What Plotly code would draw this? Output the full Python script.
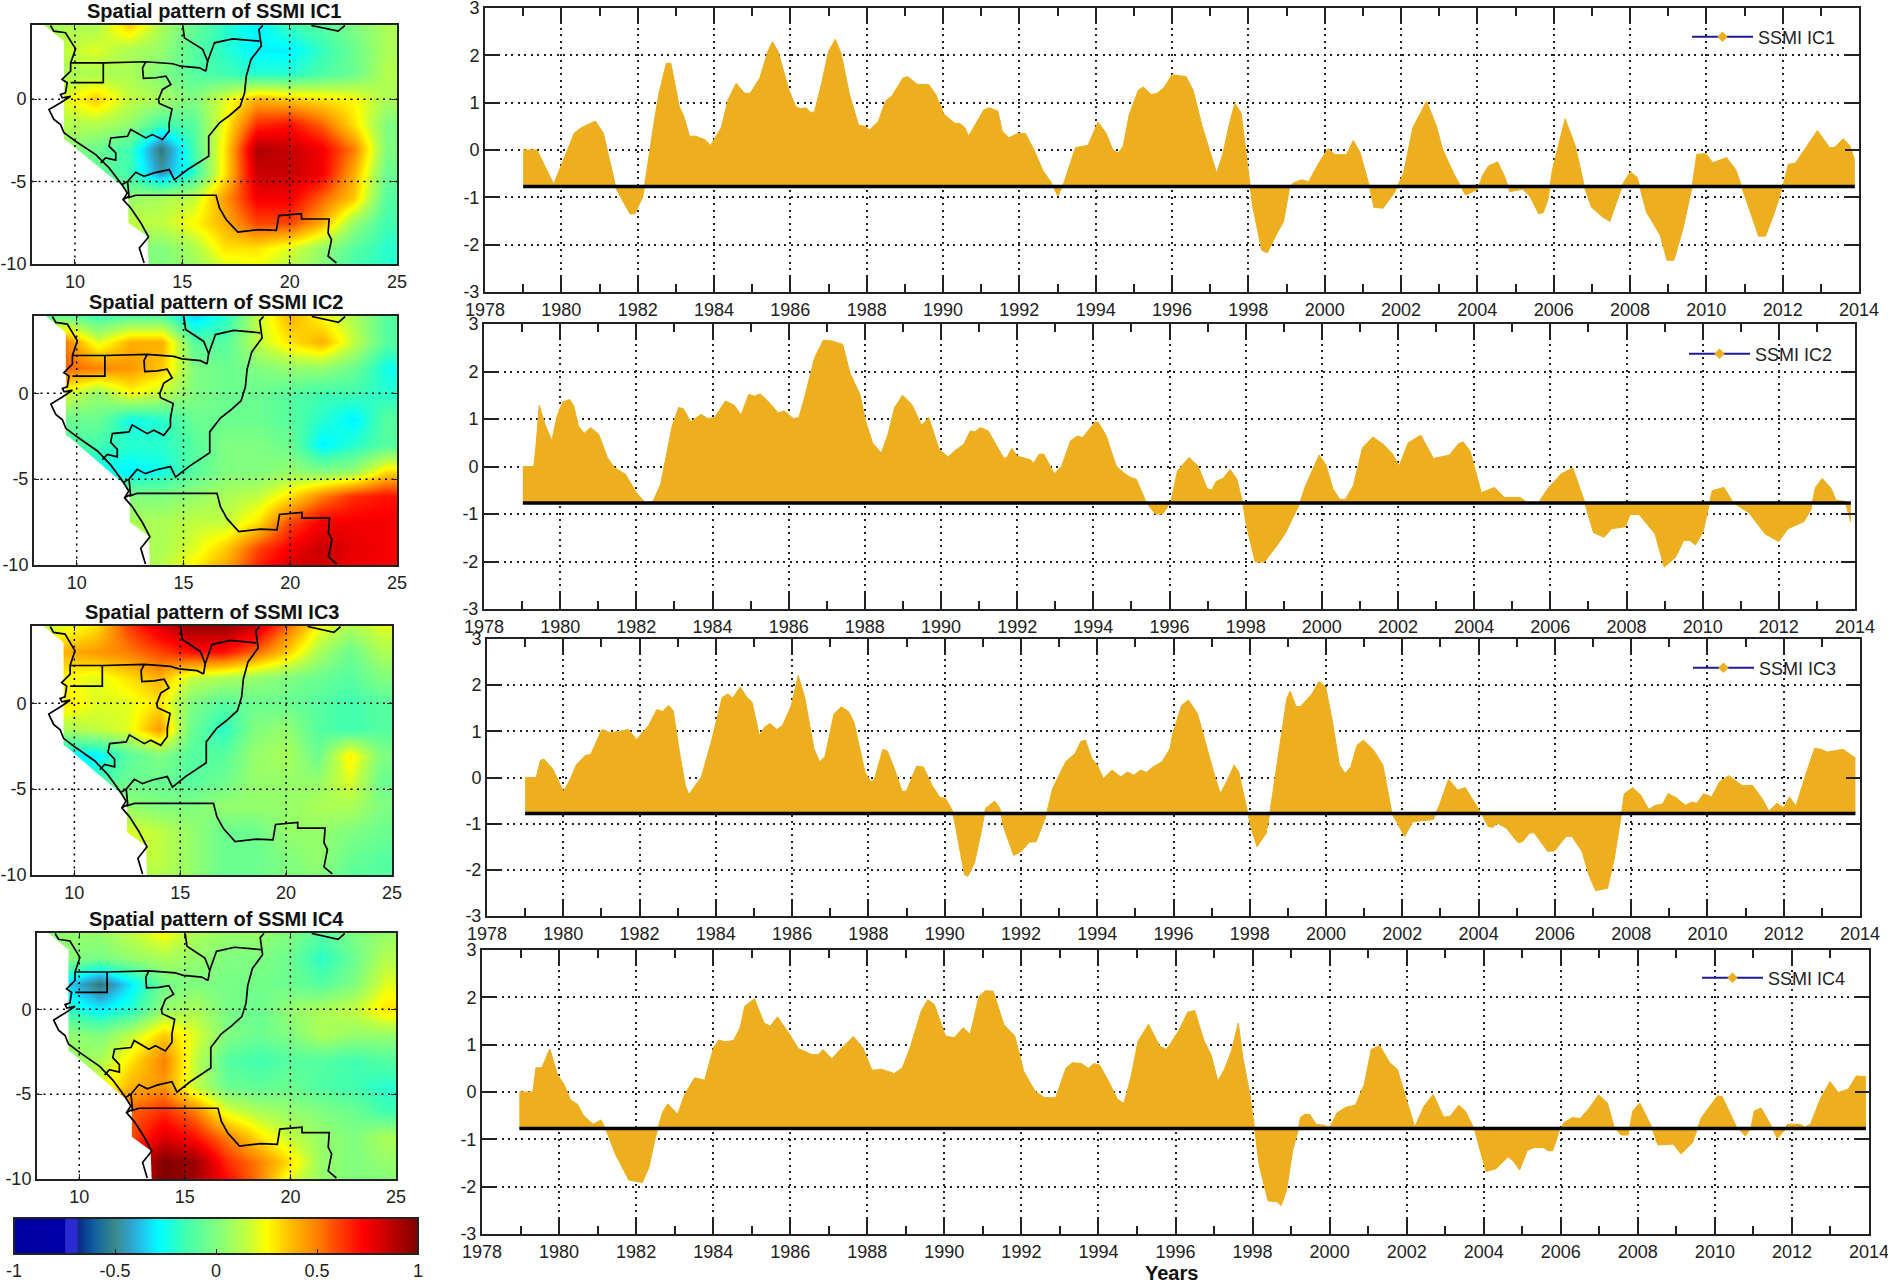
import plotly.graph_objects as go

W, H = 1888, 1284

# ---------------------- time series ----------------------
ic1_years = [1979.0, 1979.36, 1979.8, 1980.1, 1980.34, 1980.52, 1980.89, 1981.1, 1981.32, 1981.44, 1981.8, 1981.93, 1982.14, 1982.23, 1982.44, 1982.56, 1982.75, 1982.87, 1983.09, 1983.21, 1983.36, 1983.52, 1983.76, 1983.91, 1984.19, 1984.37, 1984.58, 1984.8, 1984.95, 1985.2, 1985.41, 1985.53, 1985.68, 1985.96, 1986.14, 1986.27, 1986.41, 1986.53, 1986.63, 1986.82, 1987.0, 1987.18, 1987.33, 1987.55, 1987.79, 1987.97, 1988.07, 1988.31, 1988.49, 1988.67, 1988.95, 1989.08, 1989.32, 1989.63, 1989.81, 1990.03, 1990.3, 1990.44, 1990.58, 1990.67, 1990.85, 1991.07, 1991.22, 1991.44, 1991.55, 1991.73, 1991.95, 1992.16, 1992.38, 1992.62, 1992.81, 1993.01, 1993.17, 1993.47, 1993.8, 1994.06, 1994.27, 1994.45, 1994.6, 1994.72, 1994.88, 1995.12, 1995.25, 1995.46, 1995.61, 1995.8, 1996.0, 1996.37, 1996.55, 1996.79, 1997.17, 1997.33, 1997.51, 1997.65, 1997.81, 1998.01, 1998.11, 1998.35, 1998.5, 1998.77, 1998.92, 1999.09, 1999.19, 1999.4, 1999.58, 1999.85, 2000.09, 2000.27, 2000.57, 2000.75, 2000.93, 2001.17, 2001.29, 2001.53, 2001.83, 2002.07, 2002.31, 2002.67, 2002.93, 2003.09, 2003.39, 2003.69, 2004.01, 2004.13, 2004.29, 2004.53, 2004.71, 2004.85, 2005.19, 2005.37, 2005.61, 2005.73, 2005.85, 2005.97, 2006.3, 2006.57, 2006.81, 2006.99, 2007.29, 2007.47, 2007.83, 2008.01, 2008.19, 2008.43, 2008.79, 2008.97, 2009.15, 2009.39, 2009.63, 2009.75, 2009.99, 2010.17, 2010.53, 2010.77, 2010.95, 2011.37, 2011.55, 2011.79, 2012.03, 2012.15, 2012.33, 2012.57, 2012.91, 2013.23, 2013.37, 2013.59, 2013.77, 2013.89]
ic1_values = [0, 0, -0.72, -0.13, 0.36, 0.47, 0.61, 0.36, -0.4, -0.83, -1.35, -1.35, -0.97, -0.47, 0.64, 1.2, 1.83, 1.83, 0.92, 0.71, 0.29, 0.29, 0.22, 0.1, 0.47, 1.06, 1.41, 1.2, 1.2, 1.52, 2.08, 2.29, 2.08, 1.27, 0.92, 0.87, 0.89, 0.8, 0.8, 1.41, 2.08, 2.34, 2.04, 1.17, 0.52, 0.5, 0.42, 0.61, 1.03, 1.15, 1.52, 1.55, 1.39, 1.38, 1.17, 0.75, 0.57, 0.56, 0.47, 0.29, 0.54, 0.85, 0.89, 0.82, 0.4, 0.26, 0.35, 0.35, 0.01, -0.44, -0.65, -0.97, -0.69, 0.05, 0.1, 0.59, 0.36, 0, -0.06, 0.08, 0.75, 1.27, 1.33, 1.17, 1.2, 1.33, 1.59, 1.55, 1.27, 0.5, -0.49, -0.09, 0.57, 0.99, 0.78, -0.48, -1.17, -2.12, -2.17, -1.73, -1.52, -0.76, -0.69, -0.63, -0.67, -0.27, 0.03, -0.1, -0.1, 0.2, -0.06, -0.76, -1.21, -1.23, -0.9, -0.48, 0.47, 1.03, 0.5, 0.01, -0.51, -0.95, -0.83, -0.55, -0.34, -0.25, -0.55, -0.88, -0.83, -0.97, -1.35, -1.32, -1.04, -0.41, 0.66, 0.08, -0.79, -1.21, -1.42, -1.51, -0.69, -0.46, -0.58, -1.31, -1.8, -2.33, -2.33, -1.66, -0.76, -0.09, -0.08, -0.27, -0.16, -0.41, -0.83, -1.82, -1.82, -1.31, -0.69, -0.3, -0.28, 0.01, 0.41, 0.05, 0.06, 0.24, 0.08, -0.23]

ic2_years = [1979.02, 1979.31, 1979.37, 1979.45, 1979.6, 1979.78, 1979.92, 1980.07, 1980.25, 1980.36, 1980.48, 1980.63, 1980.8, 1981.01, 1981.24, 1981.42, 1981.71, 1982.0, 1982.23, 1982.44, 1982.64, 1982.94, 1983.11, 1983.23, 1983.43, 1983.7, 1983.87, 1984.05, 1984.34, 1984.57, 1984.75, 1984.95, 1985.1, 1985.25, 1985.45, 1985.72, 1985.89, 1986.12, 1986.27, 1986.44, 1986.68, 1986.91, 1987.15, 1987.42, 1987.61, 1987.87, 1988.02, 1988.2, 1988.43, 1988.61, 1988.78, 1988.99, 1989.23, 1989.49, 1989.68, 1989.95, 1990.19, 1990.36, 1990.6, 1990.77, 1990.89, 1991.03, 1991.24, 1991.65, 1991.73, 1991.86, 1992.0, 1992.35, 1992.43, 1992.58, 1992.7, 1992.97, 1993.17, 1993.4, 1993.58, 1993.72, 1994.05, 1994.14, 1994.34, 1994.6, 1994.81, 1994.98, 1995.13, 1995.39, 1995.63, 1995.82, 1995.97, 1996.03, 1996.21, 1996.51, 1996.75, 1996.99, 1997.11, 1997.23, 1997.41, 1997.59, 1997.77, 1997.92, 1998.01, 1998.25, 1998.49, 1998.79, 1999.03, 1999.39, 1999.57, 1999.93, 2000.11, 2000.29, 2000.47, 2000.62, 2000.83, 2001.07, 2001.34, 2001.61, 2001.85, 2002.03, 2002.27, 2002.6, 2002.93, 2003.35, 2003.59, 2003.71, 2003.89, 2004.01, 2004.19, 2004.53, 2004.79, 2005.21, 2005.39, 2005.69, 2005.93, 2006.29, 2006.59, 2006.89, 2007.13, 2007.41, 2007.61, 2007.97, 2008.09, 2008.33, 2008.75, 2008.99, 2009.29, 2009.5, 2009.66, 2009.81, 2010.01, 2010.25, 2010.56, 2010.8, 2011.21, 2011.64, 2012.0, 2012.24, 2012.66, 2012.84, 2012.96, 2013.14, 2013.38, 2013.5, 2013.74, 2013.89]
ic2_values = [0, 0, 0.47, 1.29, 0.89, 0.54, 1.06, 1.36, 1.41, 1.27, 0.85, 0.7, 0.82, 0.68, 0.19, -0.02, -0.16, -0.55, -0.76, -0.73, -0.37, 0.85, 1.24, 1.22, 0.94, 1.1, 1.01, 1.03, 1.38, 1.29, 1.08, 1.52, 1.48, 1.53, 1.38, 1.13, 1.17, 1.01, 1.03, 1.52, 2.29, 2.66, 2.64, 2.57, 1.97, 1.52, 0.96, 0.5, 0.28, 0.68, 1.24, 1.5, 1.31, 0.87, 1.03, 0.36, 0.2, 0.33, 0.47, 0.75, 0.73, 0.82, 0.75, 0.17, 0.19, 0.38, 0.22, 0.14, 0.07, 0.26, 0.26, -0.15, 0.01, 0.54, 0.64, 0.61, 0.94, 0.92, 0.64, 0.01, -0.14, -0.23, -0.27, -0.76, -1.0, -1.0, -0.83, -0.76, -0.09, 0.19, 0.01, -0.47, -0.49, -0.31, -0.25, -0.06, -0.27, -0.76, -1.21, -2.01, -2.01, -1.7, -1.42, -0.83, -0.41, 0.24, 0.03, -0.47, -0.69, -0.69, -0.4, 0.4, 0.62, 0.47, 0.27, 0.01, 0.5, 0.66, 0.17, 0.24, 0.48, 0.52, 0.33, -0.02, -0.55, -0.44, -0.65, -0.65, -0.76, -0.76, -0.47, -0.15, -0.03, -0.72, -1.39, -1.49, -1.31, -1.27, -1.01, -1.01, -1.42, -2.12, -1.91, -1.56, -1.56, -1.65, -1.38, -0.51, -0.44, -0.76, -0.97, -1.42, -1.58, -1.31, -1.16, -0.91, -0.44, -0.25, -0.47, -0.71, -0.73, -1.17]

ic3_years = [1979.0, 1979.29, 1979.4, 1979.49, 1979.72, 1980.01, 1980.19, 1980.34, 1980.58, 1980.72, 1981.01, 1981.24, 1981.48, 1981.71, 1981.92, 1982.24, 1982.45, 1982.61, 1982.76, 1982.88, 1983.06, 1983.2, 1983.29, 1983.47, 1983.62, 1983.88, 1984.17, 1984.32, 1984.44, 1984.64, 1984.81, 1984.95, 1985.14, 1985.28, 1985.42, 1985.6, 1985.75, 1985.98, 1986.16, 1986.33, 1986.57, 1986.72, 1986.86, 1987.1, 1987.29, 1987.48, 1987.62, 1987.91, 1988.05, 1988.15, 1988.38, 1988.5, 1988.68, 1988.89, 1989.0, 1989.26, 1989.44, 1989.67, 1989.87, 1990.02, 1990.2, 1990.31, 1990.52, 1990.61, 1990.78, 1990.96, 1991.07, 1991.31, 1991.45, 1991.54, 1991.81, 1992.01, 1992.22, 1992.4, 1992.65, 1992.83, 1993.18, 1993.42, 1993.57, 1993.69, 1993.86, 1994.0, 1994.16, 1994.39, 1994.62, 1994.79, 1994.96, 1995.14, 1995.29, 1995.46, 1995.7, 1995.91, 1995.97, 1996.21, 1996.39, 1996.63, 1996.81, 1997.05, 1997.23, 1997.41, 1997.59, 1997.71, 1997.95, 1998.05, 1998.19, 1998.43, 1998.53, 1998.79, 1998.97, 1999.06, 1999.21, 1999.33, 1999.63, 1999.81, 1999.99, 2000.17, 2000.35, 2000.5, 2000.65, 2000.81, 2000.98, 2001.25, 2001.49, 2001.73, 2002.06, 2002.27, 2002.81, 2002.99, 2003.21, 2003.45, 2003.65, 2004.07, 2004.25, 2004.37, 2004.49, 2004.73, 2005.03, 2005.15, 2005.33, 2005.45, 2005.81, 2005.99, 2006.29, 2006.45, 2006.71, 2006.89, 2007.07, 2007.38, 2007.56, 2007.74, 2007.82, 2008.04, 2008.25, 2008.46, 2008.64, 2008.82, 2008.97, 2009.18, 2009.42, 2009.6, 2009.72, 2009.9, 2010.11, 2010.32, 2010.56, 2010.92, 2011.18, 2011.46, 2011.61, 2011.82, 2012.0, 2012.15, 2012.32, 2012.6, 2012.81, 2012.98, 2013.14, 2013.56, 2013.88]
ic3_values = [0, 0, 0.37, 0.4, 0.19, -0.31, -0.02, 0.27, 0.48, 0.5, 1.04, 0.97, 1.0, 1.04, 0.82, 1.13, 1.47, 1.43, 1.56, 1.45, 0.48, -0.17, -0.37, -0.17, 0.01, 0.77, 1.74, 1.81, 1.72, 1.96, 1.74, 1.63, 0.91, 1.09, 1.17, 1.04, 1.13, 1.56, 2.21, 1.74, 0.63, 0.34, 0.45, 1.38, 1.53, 1.43, 1.2, 0.12, -0.08, -0.06, 0.61, 0.57, 0.19, -0.31, -0.29, 0.24, 0.23, -0.17, -0.43, -0.45, -0.71, -1.17, -2.11, -2.14, -1.86, -1.17, -0.67, -0.51, -0.67, -1.06, -1.69, -1.6, -1.4, -1.39, -0.85, -0.24, 0.35, 0.52, 0.78, 0.81, 0.41, 0.27, -0.02, 0.16, 0.01, 0.12, 0.05, 0.16, 0.11, 0.23, 0.34, 0.63, 0.91, 1.56, 1.68, 1.38, 0.84, 0.12, -0.35, -0.06, 0.27, 0.12, -0.78, -1.14, -1.5, -1.21, -0.74, 0.77, 1.71, 1.87, 1.54, 1.54, 1.81, 2.08, 1.96, 1.2, 0.27, 0.09, 0.23, 0.7, 0.81, 0.59, 0.27, -0.78, -1.28, -0.96, -0.91, -0.56, -0.04, -0.27, -0.22, -0.78, -1.06, -1.08, -0.99, -1.1, -1.41, -1.39, -1.21, -1.19, -1.6, -1.59, -1.28, -1.28, -1.6, -2.11, -2.45, -2.4, -1.75, -0.81, -0.35, -0.22, -0.38, -0.69, -0.6, -0.58, -0.35, -0.44, -0.6, -0.53, -0.56, -0.35, -0.42, -0.09, 0.04, -0.18, -0.17, -0.49, -0.73, -0.56, -0.65, -0.42, -0.62, 0.12, 0.63, 0.61, 0.55, 0.61, 0.42]

ic4_years = [1978.97, 1979.32, 1979.4, 1979.55, 1979.76, 1979.96, 1980.13, 1980.3, 1980.48, 1980.63, 1980.88, 1981.09, 1981.23, 1981.46, 1981.81, 1982.16, 1982.33, 1982.5, 1982.68, 1982.82, 1983.08, 1983.26, 1983.52, 1983.78, 1984.01, 1984.15, 1984.3, 1984.53, 1984.7, 1984.82, 1985.07, 1985.32, 1985.48, 1985.67, 1985.98, 1986.21, 1986.56, 1986.73, 1986.85, 1987.08, 1987.31, 1987.64, 1987.89, 1988.12, 1988.37, 1988.7, 1988.91, 1989.11, 1989.4, 1989.57, 1989.74, 1990.03, 1990.26, 1990.49, 1990.67, 1990.9, 1991.07, 1991.27, 1991.54, 1991.83, 1992.06, 1992.35, 1992.6, 1992.89, 1993.16, 1993.33, 1993.56, 1993.74, 1993.88, 1994.03, 1994.26, 1994.49, 1994.66, 1994.84, 1995.03, 1995.3, 1995.59, 1995.76, 1995.85, 1996.08, 1996.32, 1996.5, 1996.74, 1996.92, 1997.1, 1997.27, 1997.45, 1997.63, 1997.75, 1997.93, 1998.05, 1998.17, 1998.4, 1998.64, 1998.74, 1998.88, 1999.04, 1999.18, 1999.24, 1999.36, 1999.48, 1999.65, 1999.83, 2000.01, 2000.19, 2000.43, 2000.67, 2000.9, 2001.08, 2001.3, 2001.56, 2001.76, 2001.98, 2002.21, 2002.45, 2002.69, 2002.96, 2003.13, 2003.35, 2003.52, 2003.76, 2003.94, 2004.06, 2004.32, 2004.63, 2004.77, 2004.93, 2005.13, 2005.31, 2005.55, 2005.67, 2005.79, 2005.96, 2006.08, 2006.3, 2006.5, 2006.74, 2006.98, 2007.21, 2007.39, 2007.57, 2007.75, 2007.87, 2008.05, 2008.35, 2008.52, 2008.7, 2008.92, 2009.12, 2009.42, 2009.65, 2010.07, 2010.19, 2010.55, 2010.79, 2010.94, 2011.02, 2011.2, 2011.44, 2011.62, 2011.8, 2011.88, 2012.21, 2012.33, 2012.48, 2012.75, 2012.99, 2013.2, 2013.46, 2013.67, 2013.92]
ic4_values = [0, 0, 0.51, 0.51, 0.91, 0.37, 0.16, -0.17, -0.26, -0.49, -0.68, -0.59, -0.82, -1.31, -1.86, -1.91, -1.6, -0.96, -0.44, -0.25, -0.47, -0.05, 0.3, 0.25, 0.94, 1.1, 1.06, 1.09, 1.36, 1.81, 1.97, 1.46, 1.39, 1.59, 1.22, 0.92, 0.79, 0.79, 0.9, 0.7, 0.91, 1.17, 0.93, 0.46, 0.48, 0.39, 0.51, 0.93, 1.71, 1.95, 1.85, 1.18, 1.15, 1.36, 1.22, 2.02, 2.14, 2.13, 1.43, 1.18, 0.44, 0.02, -0.12, -0.12, 0.51, 0.62, 0.6, 0.5, 0.6, 0.57, 0.23, -0.15, -0.24, 0.3, 1.08, 1.43, 0.97, 0.9, 1.0, 1.29, 1.69, 1.72, 1.08, 0.79, 0.23, 0.48, 0.86, 1.46, 0.72, -0.05, -0.75, -1.53, -2.3, -2.32, -2.4, -2.09, -1.24, -0.82, -0.54, -0.47, -0.47, -0.68, -0.7, -0.74, -0.44, -0.32, -0.28, 0.16, 0.9, 0.98, 0.62, 0.48, -0.12, -0.74, -0.3, -0.05, -0.53, -0.51, -0.28, -0.4, -0.79, -1.31, -1.68, -1.62, -1.37, -1.46, -1.65, -1.24, -1.17, -1.17, -1.24, -1.24, -0.82, -0.65, -0.54, -0.56, -0.34, -0.06, -0.23, -0.75, -0.91, -0.91, -0.4, -0.23, -0.72, -1.12, -1.11, -1.1, -1.31, -1.07, -0.54, -0.08, -0.1, -0.72, -0.93, -0.75, -0.4, -0.34, -0.68, -0.98, -0.82, -0.68, -0.68, -0.74, -0.68, -0.12, 0.22, -0.01, 0.06, 0.34, 0.32]

baselines = [-0.77, -0.77, -0.78, -0.77]
ic_names = ["SSMI IC1", "SSMI IC2", "SSMI IC3", "SSMI IC4"]

year_ticks = list(range(1978, 2015, 2))
year_labels = [str(y) for y in year_ticks]
odd_years = list(range(1979, 2014, 2))
score_ticks = [-3, -2, -1, 0, 1, 2, 3]
score_labels = ["-3", "-2", "-1", "0", "1", "2", "3"]

# ---------------------- maps, coarse grid ----------------------
# rows run north to south, steps kept even for the smoothing
lons = [8, 9.5, 11, 12.5, 14, 15.5, 17, 18.5, 20, 21.5, 23, 24.5]
lats = [4.5, 3, 1.5, 0, -1.5, -3, -4.5, -6, -7.5, -9, -10.5]

map_ic1 = [
    [0.05, 0.1, 0.1, 0.35, 0.1, -0.05, -0.2, -0.3, -0.15, -0.1, 0, 0.1],
    [0.1, 0.15, 0.2, 0.1, 0.05, -0.1, -0.2, -0.3, -0.3, -0.18, -0.05, 0.1],
    [0.1, 0.1, 0.1, 0.1, 0, -0.1, -0.15, -0.2, -0.2, -0.12, -0.05, 0.12],
    [0.15, 0.2, 0.35, 0.15, 0.1, 0, 0.2, 0.4, 0.35, 0.3, 0.25, 0.1],
    [0.1, 0.12, 0.12, 0.05, -0.15, -0.1, 0.25, 0.65, 0.7, 0.55, 0.3, 0],
    [0.1, 0.05, -0.05, -0.15, -0.55, -0.15, 0.3, 0.9, 0.85, 0.75, 0.5, 0],
    [0.05, 0, -0.05, -0.15, -0.45, -0.2, 0.3, 0.85, 0.85, 0.75, 0.4, -0.05],
    [0, 0, 0, 0.05, 0.1, 0.15, 0.45, 0.75, 0.75, 0.55, 0.35, -0.1],
    [0.1, 0.1, 0.1, 0.15, 0.15, 0.25, 0.4, 0.6, 0.6, 0.4, 0.05, -0.15],
    [0.1, 0.1, 0.1, 0.05, 0, 0.1, 0.3, 0.3, 0.2, 0.05, -0.1, -0.2],
    [0, 0, 0, 0, 0, 0.05, 0.15, 0.2, 0.1, 0, -0.15, -0.2],
]
map_ic2 = [
    [-0.1, -0.05, -0.15, -0.1, -0.1, -0.35, -0.2, 0.15, 0.4, 0.25, 0.1, -0.1],
    [0.5, 0.5, 0.2, 0.4, 0.4, -0.1, -0.1, 0.15, 0.3, 0.4, 0.15, -0.1],
    [0.5, 0.55, 0.5, 0.45, 0.35, 0, -0.05, 0, 0.05, 0.05, -0.05, -0.25],
    [0.25, 0.2, 0.05, 0.25, 0.15, 0, -0.05, -0.05, -0.1, -0.15, -0.15, -0.2],
    [0, -0.05, -0.05, -0.25, -0.2, -0.05, -0.05, -0.05, -0.1, -0.2, -0.3, -0.1],
    [-0.1, -0.1, -0.15, -0.2, -0.2, -0.1, 0, 0, -0.05, -0.3, -0.2, -0.1],
    [-0.2, -0.2, -0.25, -0.3, -0.25, -0.1, 0, 0, 0.05, 0, 0.05, 0.3],
    [-0.1, -0.1, -0.1, 0, 0, 0.05, 0.1, 0.15, 0.3, 0.5, 0.65, 0.7],
    [0.15, 0.15, 0.1, 0.1, 0.1, 0.15, 0.15, 0.3, 0.6, 0.75, 0.75, 0.75],
    [0.1, 0.1, 0.1, 0.1, 0.1, 0.2, 0.35, 0.6, 0.75, 0.85, 0.78, 0.75],
    [0, 0, 0, 0.05, 0.15, 0.3, 0.45, 0.7, 0.85, 0.8, 0.75, 0.75],
]
map_ic3 = [
    [0.1, 0.2, 0.3, 0.6, 0.8, 0.95, 0.95, 0.85, 0.55, 0.25, 0.1, 0.2],
    [0.25, 0.4, 0.45, 0.5, 0.6, 0.7, 0.7, 0.55, 0.35, 0.1, -0.05, 0.1],
    [0.1, 0.25, 0.2, 0.3, 0.4, 0.15, 0.1, 0.05, 0, -0.05, -0.1, 0],
    [0.15, 0.3, 0.2, 0.2, 0.3, 0, -0.1, -0.05, -0.05, -0.1, -0.15, -0.1],
    [0.1, 0.1, 0.15, 0.2, 0.45, -0.05, -0.2, 0, 0.05, -0.1, -0.15, -0.1],
    [-0.3, -0.3, -0.3, -0.1, 0, -0.1, -0.1, 0.05, 0.1, -0.05, 0.28, 0],
    [-0.2, -0.2, -0.15, -0.05, -0.05, -0.1, -0.05, 0.05, 0.05, 0.05, 0.2, -0.05],
    [0, 0.1, 0.1, 0.05, 0, 0, 0.05, 0.05, 0.05, 0.1, 0.1, 0],
    [0.2, 0.2, 0.2, 0.2, 0.15, 0.05, -0.05, -0.05, 0.05, 0.05, 0, -0.05],
    [0.1, 0.1, 0.1, 0.15, 0.15, 0.05, -0.05, -0.05, 0, 0.05, -0.05, -0.1],
    [0, 0, 0, 0.1, 0.1, 0.05, -0.05, -0.05, 0, 0, -0.1, -0.1],
]
map_ic4 = [
    [0, 0.05, 0.05, 0.15, 0.25, 0.1, 0.05, 0.05, 0, -0.1, 0, 0.05],
    [0, 0.02, -0.02, 0.05, 0.1, 0.05, 0, 0, -0.05, -0.2, -0.05, 0.12],
    [-0.3, -0.35, -0.55, -0.3, -0.03, 0, -0.02, -0.03, -0.05, -0.1, 0, 0.2],
    [-0.1, -0.2, -0.3, -0.2, 0.05, 0.1, -0.02, -0.05, 0.05, 0.1, 0.15, 0.3],
    [0.05, 0.05, 0, 0.15, 0.35, 0.2, 0, -0.05, 0, 0.1, 0.05, 0.05],
    [0.05, 0.05, 0.1, 0.3, 0.5, 0.15, -0.1, -0.15, -0.1, -0.1, -0.15, -0.1],
    [0.1, 0.1, 0.2, 0.4, 0.45, 0.15, -0.05, -0.08, -0.05, -0.12, -0.15, -0.2],
    [0.4, 0.4, 0.5, 0.55, 0.65, 0.5, 0.2, 0.1, 0.05, 0, -0.05, -0.15],
    [0.5, 0.5, 0.55, 0.6, 0.8, 0.7, 0.5, 0.3, 0.15, 0.05, 0, 0.1],
    [0.3, 0.3, 0.5, 0.8, 1, 0.95, 0.65, 0.5, 0.3, 0.05, 0, 0.05],
    [0, 0, 0.3, 0.8, 1, 0.9, 0.75, 0.5, 0.15, 0.05, 0, 0],
]

# sea mask and political borders, lon/lat
sea_lons = [8, 8.55, 9.49, 9.49, 9.64, 12.21, 12.49, 12.49, 13.38, 13.43, 8, 8]
sea_lats = [4.5, 4.5, 3.52, -2.45, -2.55, -5.28, -5.89, -7.51, -8.32, -10, -10, 4.5]

border_lons = [
    8.86, 9.02, 9.56, 9.75, 10.03, 9.8, 9.8, 9.4, 9.64, 9.56, 9.33, 9.41, 9.8, 9.33, 8.79, 9.02, 9.33, 9.49, 10.03, 10.97, 11.59, 12.13, 12.44, 12.24, 12.6, 13.07, 13.43, 13.0, 13.22, None,
    9.8, 11.36, 13.3, 14.55, 14.93, 15.8, 16.1, None,
    9.8, 11.32, 11.32, None,
    13.3, 13.15, 13.19, 13.77, 14.24, 14.47, 14.08, 13.89, 13.93, 14.52, 14.39, 14.39, 14.08, 13.61, 13.3, 12.6, 12.45, 11.67, 11.59, 11.9, 11.9, 11.43, 11.2, None,
    12.2, 12.45, 12.83, 13.22, 13.69, 14.39, 14.63, 15.25, 16.23, 16.23, 16.73, 17.2, 17.7, 17.9, 17.98, 18.2, 18.68, 18.57, 18.75, None,
    12.45, 12.52, 12.24, None,
    12.45, 12.83, 16.57, 16.73, 17.04, 17.59, 18.6, 19.38, 19.5, 20.55, 20.55, 21.84, 21.79, 21.95, 21.79, 22.18, None,
    15.02, 15.1, 15.95, 16.18, 16.1, None,
    16.18, 16.5, 17.35, 18.6, None,
    21.01, 22.26, 22.57,
]
border_lats = [
    4.47, 4.13, 4.03, 3.62, 3.06, 2.2, 1.7, 1.2, 1.0, 0.38, 0.28, 0.08, 0.18, -0.22, -0.63, -1.23, -1.54, -2.04, -2.55, -3.36, -4.17, -5.08, -5.69, -6.09, -6.6, -7.51, -8.36, -9.03, -9.94, None,
    2.2, 2.2, 2.27, 2.15, 2.0, 1.9, 1.7, None,
    1.0, 1.0, 2.2, None,
    2.27, 1.9, 1.26, 1.3, 1.4, 0.89, 0.59, -0.02, -0.26, -0.59, -1.44, -1.94, -2.45, -2.15, -2.35, -1.84, -2.25, -2.35, -2.85, -3.26, -3.7, -3.56, -3.87, None,
    -5.18, -5.0, -4.43, -4.68, -4.47, -4.27, -4.88, -4.27, -3.46, -2.25, -1.44, -0.99, -0.43, 0.38, 1.4, 2.41, 3.22, 4.23, 4.47, None,
    -5.0, -5.89, -6.09, None,
    -5.99, -5.83, -5.83, -6.6, -7.3, -8.06, -7.91, -7.96, -7.06, -6.94, -7.27, -7.27, -8.12, -8.52, -9.53, -9.94, None,
    4.47, 3.72, 3.02, 2.3, 1.7, None,
    2.3, 3.42, 3.66, 3.52, None,
    4.47, 4.13, 4.47,
]

lon_ticks = [10, 15, 20, 25]
lon_labels = ["10", "15", "20", "25"]
lat_ticks = [-10, -5, 0]
lat_labels = ["-10", "-5", "0"]
colorbar_ticks = [-1, -0.5, 0, 0.5, 1]
colorbar_labels = ["-1", "-0.5", "0", "0.5", "1"]

# jet like scale of the original, with its muddy band around -0.5
colorscale = [
    [0.0, "#00009f"], [0.125, "#0000aa"], [0.128, "#2a2ad0"], [0.155, "#2a2ad0"], [0.16, "#0a2a8a"],
    [0.2, "#1060a0"], [0.25, "#3a8a8a"], [0.285, "#30a0c8"], [0.32, "#20c8f0"], [0.36, "#00ffff"],
    [0.425, "#40ffb0"], [0.5, "#80ff80"], [0.575, "#c0ff40"], [0.625, "#ffff00"], [0.675, "#ffc800"],
    [0.75, "#ff8000"], [0.79, "#ff5000"], [0.865, "#ff0000"], [0.915, "#d00000"], [1.0, "#800000"],
]

# ---------------------- panel positions in pixels (left, right, top, bottom) ----------------------
series_boxes = [(485, 1859, 8, 292), (484, 1855, 324, 609), (487, 1860, 639, 916), (482, 1869, 950, 1234)]
map_boxes = [(32, 397, 25, 264), (34, 397, 316, 565), (32, 392, 626, 875), (37, 396, 933, 1179)]
legend_spots = [(1687, 37), (1684, 354), (1688, 668), (1697, 978)]

all_years = [ic1_years, ic2_years, ic3_years, ic4_years]
all_values = [ic1_values, ic2_values, ic3_values, ic4_values]
all_maps = [map_ic1, map_ic2, map_ic3, map_ic4]

AXIS_COLOR = "#222222"
FONT = "Liberation Sans"
GOLD = "#EDAF1F"
DOTS = "2px,4.5px"


def domains(box):
    l, r, t, b = box
    return [l / W, r / W], [1 - b / H, 1 - t / H]


def axis_ids(n):
    # first pair has no number in plotly
    s = "" if n == 1 else str(n)
    return f"x{s}", f"y{s}", f"xaxis{s}", f"yaxis{s}"


fig = go.Figure()
layout_axes = {}
annotations = []

for i in range(4):
    # ---------------------- map on the left ----------------------
    xa, ya, xname, yname = axis_ids(2 * i + 1)
    dom_x, dom_y = domains(map_boxes[i])

    # ascending lats, the smoothing showed a hard edge with descending ones
    fig.add_trace(go.Heatmap(x=lons, y=lats[::-1], z=all_maps[i][::-1], coloraxis="coloraxis",
                             zsmooth="best", xaxis=xa, yaxis=ya, hoverinfo="skip"))
    fig.add_trace(go.Scatter(x=sea_lons, y=sea_lats, mode="lines", fill="toself",
                             fillcolor="white", line=dict(width=0), showlegend=False,
                             xaxis=xa, yaxis=ya, hoverinfo="skip"))
    fig.add_trace(go.Scatter(x=border_lons, y=border_lats, mode="lines",
                             line=dict(color="black", width=1.7), showlegend=False,
                             xaxis=xa, yaxis=ya, hoverinfo="skip"))
    # grid has to sit over the colours
    for lon in lon_ticks[:-1]:
        fig.add_trace(go.Scatter(x=[lon, lon], y=[-10, 4.5], mode="lines",
                                 line=dict(color="black", width=1.5, dash=DOTS),
                                 showlegend=False, xaxis=xa, yaxis=ya, hoverinfo="skip"))
    for lat in lat_ticks[1:]:
        fig.add_trace(go.Scatter(x=[8, 25], y=[lat, lat], mode="lines",
                                 line=dict(color="black", width=1.5, dash=DOTS),
                                 showlegend=False, xaxis=xa, yaxis=ya, hoverinfo="skip"))

    layout_axes[xname] = dict(
        domain=dom_x, anchor=ya, range=[8, 25], tickvals=lon_ticks, ticktext=lon_labels,
        ticks="inside", ticklen=5, showgrid=False, zeroline=False, showline=True, mirror="ticks",
        linecolor=AXIS_COLOR, linewidth=2, tickcolor=AXIS_COLOR, tickfont=dict(family=FONT, size=18, color=AXIS_COLOR),
        layer="above traces", ticklabeloverflow="allow",
    )
    layout_axes[yname] = dict(
        domain=dom_y, anchor=xa, range=[-10, 4.5], tickvals=lat_ticks, ticktext=lat_labels,
        ticks="inside", ticklen=5, showgrid=False, zeroline=False, showline=True, mirror="ticks",
        linecolor=AXIS_COLOR, linewidth=2, tickcolor=AXIS_COLOR, tickfont=dict(family=FONT, size=18, color=AXIS_COLOR),
        layer="above traces", ticklabeloverflow="allow",
    )
    annotations.append(dict(
        text=f"Spatial pattern of {ic_names[i]}", xref=f"{xa} domain", yref=f"{ya} domain",
        x=0.5, y=1, yanchor="bottom", xanchor="center", yshift=1, showarrow=False,
        font=dict(family=FONT, size=20, color="#111111", weight="bold"),
    ))

    # ---------------------- series on the right ----------------------
    xa, ya, xname, yname = axis_ids(2 * i + 2)
    dom_x, dom_y = domains(series_boxes[i])
    start, end = all_years[i][0], all_years[i][-1]

    fig.add_trace(go.Scatter(x=[start, end], y=[baselines[i], baselines[i]], mode="lines",
                             line=dict(width=0), showlegend=False, xaxis=xa, yaxis=ya))
    fig.add_trace(go.Scatter(x=all_years[i], y=all_values[i], mode="lines", fill="tonexty",
                             fillcolor=GOLD, line=dict(color=GOLD, width=1), showlegend=False,
                             xaxis=xa, yaxis=ya))
    fig.add_trace(go.Scatter(x=[start, end], y=[baselines[i], baselines[i]], mode="lines",
                             line=dict(color="black", width=3.5), showlegend=False, xaxis=xa, yaxis=ya))
    # only there for the legend entry
    legend_name = "legend" if i == 0 else f"legend{i + 1}"
    fig.add_trace(go.Scatter(x=[None], y=[None], mode="lines+markers", name=ic_names[i],
                             line=dict(color="#1c1c96", width=2),
                             marker=dict(color=GOLD, size=8, symbol="diamond"),
                             legend=legend_name, xaxis=xa, yaxis=ya))

    layout_axes[xname] = dict(
        domain=dom_x, anchor=ya, range=[1978, 2014], tickvals=year_ticks, ticktext=year_labels,
        ticks="inside", ticklen=16, mirror="ticks", showline=True, linecolor=AXIS_COLOR, linewidth=2,
        tickcolor=AXIS_COLOR, tickwidth=1.5, showgrid=True, gridcolor=AXIS_COLOR, griddash=DOTS, gridwidth=1.5,
        zeroline=False, tickfont=dict(family=FONT, size=18, color=AXIS_COLOR), ticklabeloverflow="allow",
        minor=dict(tickvals=odd_years, ticks="inside", ticklen=8, tickcolor=AXIS_COLOR, tickwidth=1.5, showgrid=False),
    )
    layout_axes[yname] = dict(
        domain=dom_y, anchor=xa, range=[-3, 3], tickvals=score_ticks, ticktext=score_labels,
        ticks="inside", ticklen=14, mirror="ticks", showline=True, linecolor=AXIS_COLOR, linewidth=2,
        tickcolor=AXIS_COLOR, tickwidth=1.5, showgrid=True, gridcolor=AXIS_COLOR, griddash=DOTS, gridwidth=1.5,
        zeroline=False, tickfont=dict(family=FONT, size=18, color=AXIS_COLOR), ticklabeloverflow="allow",
    )
    layout_axes[legend_name] = dict(
        x=legend_spots[i][0] / W, y=1 - legend_spots[i][1] / H, xanchor="left", yanchor="middle",
        bgcolor="rgba(0,0,0,0)", itemwidth=61, font=dict(family=FONT, size=18, color=AXIS_COLOR),
    )

annotations.append(dict(text="Years", xref="paper", yref="paper", x=1171 / W, y=1 - 1273 / H,
                        xanchor="center", yanchor="middle", showarrow=False,
                        font=dict(family=FONT, size=20, color="#111111", weight="bold")))

fig.update_layout(
    width=W, height=H, autosize=False,
    margin=dict(l=0, r=0, t=0, b=0, autoexpand=False),
    paper_bgcolor="white", plot_bgcolor="white",
    annotations=annotations,
    coloraxis=dict(
        colorscale=colorscale, cmin=-1, cmax=1,
        colorbar=dict(
            orientation="h", x=14 / W, xanchor="left", y=1 - 1218 / H, yanchor="top",
            lenmode="pixels", len=404, thicknessmode="pixels", thickness=36, xpad=0, ypad=0,
            tickvals=colorbar_ticks, ticktext=colorbar_labels, ticks="inside", ticklen=6,
            tickcolor=AXIS_COLOR, outlinecolor=AXIS_COLOR, outlinewidth=2,
            tickfont=dict(family=FONT, size=18, color=AXIS_COLOR),
        ),
    ),
    **layout_axes,
)

# the page body has a default margin that would push the figure 8px off
fig.write_html("out.html", config={"displayModeBar": False},
               post_script="document.body.style.margin = '0';")
